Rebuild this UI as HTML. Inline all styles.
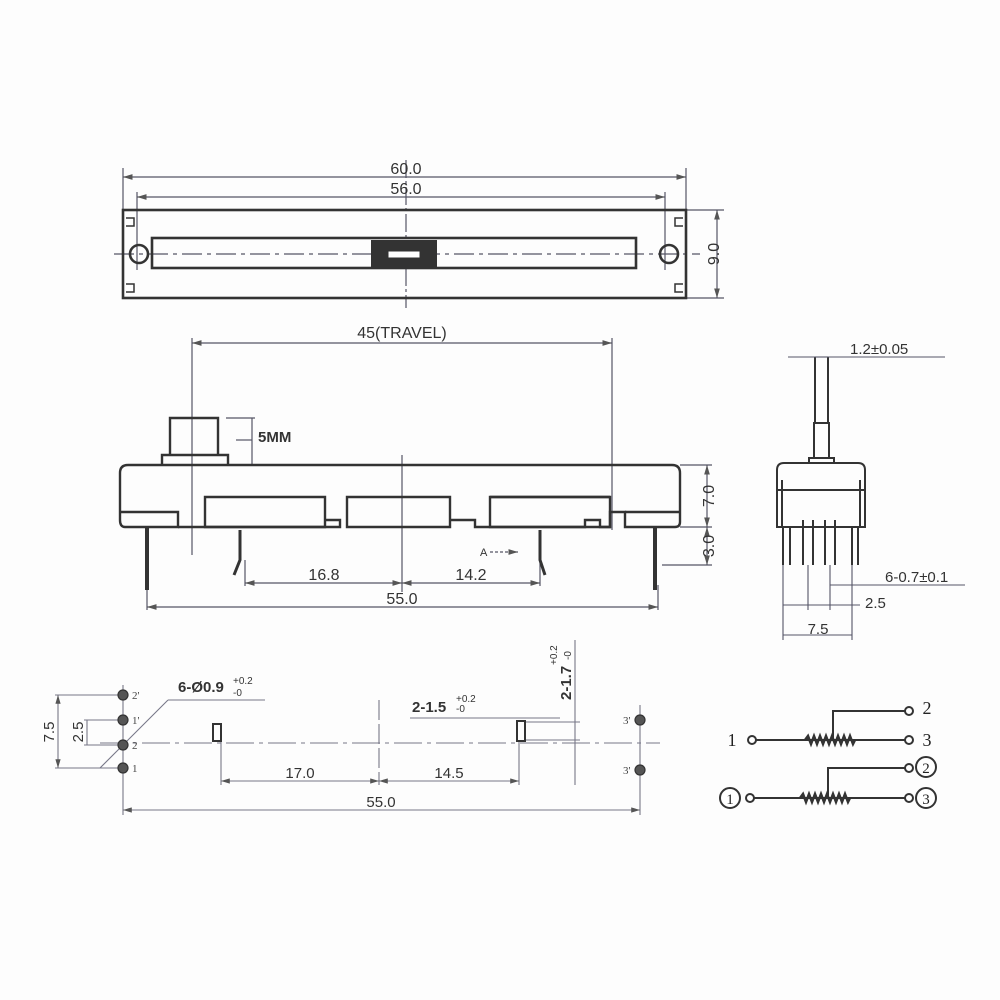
<!DOCTYPE html>
<html><head><style>html,body{margin:0;padding:0;background:#fff}svg{display:block}</style></head><body>
<svg width="1000" height="1000" viewBox="0 0 1000 1000" xmlns="http://www.w3.org/2000/svg" font-family="Liberation Sans, sans-serif">
<rect width="1000" height="1000" fill="#fdfdfd"/>
<defs>
<marker id="a" viewBox="0 0 10 6" refX="10" refY="3" markerWidth="8" markerHeight="5" orient="auto-start-reverse"><path d="M0,0L10,3L0,6z" fill="#555"/></marker>
</defs>
<!-- TOP VIEW -->
<g stroke="#556" stroke-width="1.2" fill="none">
<line x1="123" y1="168" x2="123" y2="212"/><line x1="686" y1="168" x2="686" y2="212"/>
<line x1="123" y1="177" x2="686" y2="177" marker-start="url(#a)" marker-end="url(#a)"/>
<line x1="137" y1="197" x2="665" y2="197" marker-start="url(#a)" marker-end="url(#a)"/>
<line x1="137" y1="192" x2="137" y2="270"/><line x1="665" y1="192" x2="665" y2="270"/>
<line x1="406" y1="160" x2="406" y2="308" stroke-dasharray="18,3,3,3"/>
<line x1="114" y1="254" x2="700" y2="254" stroke-dasharray="20,5,4,5"/>
<line x1="686" y1="210" x2="724" y2="210"/><line x1="686" y1="298" x2="724" y2="298"/>
<line x1="717" y1="210" x2="717" y2="298" marker-start="url(#a)" marker-end="url(#a)"/>
</g>
<g fill="#333" font-size="16"><text x="406" y="174" text-anchor="middle">60.0</text><text x="406" y="194" text-anchor="middle">56.0</text>
<text transform="translate(719,254) rotate(-90)" text-anchor="middle" font-size="16">9.0</text></g>
<g stroke="#333" stroke-width="2.6" fill="none">
<rect x="123" y="210" width="563" height="88"/>
<rect x="152" y="238" width="484" height="30"/>
<circle cx="139" cy="254" r="9"/><circle cx="669" cy="254" r="9"/>
<path d="M126,218h8v8h-8M126,292h8v-8h-8M683,218h-8v8h8M683,292h-8v-8h8" stroke-width="1.5"/>
</g>
<rect x="371" y="240" width="66" height="28" fill="#333"/>
<rect x="388" y="251" width="32" height="7" fill="#fff" stroke="#333"/>
<!-- SIDE VIEW -->
<g stroke="#556" stroke-width="1.2" fill="none">
<line x1="192" y1="343" x2="612" y2="343" marker-start="url(#a)" marker-end="url(#a)"/>
<line x1="192" y1="338" x2="192" y2="555"/><line x1="612" y1="338" x2="612" y2="530"/>
<line x1="252" y1="418" x2="252" y2="465"/><line x1="226" y1="418" x2="255" y2="418"/><line x1="236" y1="440" x2="252" y2="440"/>
<line x1="402" y1="455" x2="402" y2="592"/>
<line x1="680" y1="465" x2="712" y2="465"/><line x1="680" y1="527" x2="712" y2="527"/><line x1="662" y1="565" x2="712" y2="565"/>
<line x1="707" y1="465" x2="707" y2="527" marker-start="url(#a)" marker-end="url(#a)"/>
<line x1="707" y1="527" x2="707" y2="565" marker-start="url(#a)" marker-end="url(#a)"/>
<line x1="245" y1="583" x2="402" y2="583" marker-start="url(#a)" marker-end="url(#a)"/>
<line x1="402" y1="583" x2="540" y2="583" marker-start="url(#a)" marker-end="url(#a)"/>
<line x1="245" y1="560" x2="245" y2="586"/><line x1="540" y1="560" x2="540" y2="586"/>
<line x1="147" y1="607" x2="658" y2="607" marker-start="url(#a)" marker-end="url(#a)"/>
<line x1="147" y1="585" x2="147" y2="610"/><line x1="658" y1="585" x2="658" y2="610"/>
<line x1="490" y1="552" x2="518" y2="552" stroke-dasharray="3,2" marker-end="url(#a)"/>
</g>
<g fill="#333" font-size="16">
<text x="402" y="338" text-anchor="middle">45(TRAVEL)</text>
<text x="258" y="442" font-weight="bold" font-size="15">5MM</text>
<text x="324" y="580" text-anchor="middle">16.8</text><text x="471" y="580" text-anchor="middle">14.2</text>
<text x="402" y="604" text-anchor="middle">55.0</text>
<text transform="translate(714,496) rotate(-90)" text-anchor="middle">7.0</text>
<text transform="translate(714,546) rotate(-90)" text-anchor="middle">3.0</text>
<text x="480" y="556" font-size="11">A</text>
</g>
<g stroke="#333" stroke-width="2.4" fill="none">
<path d="M170,455V418H218V455"/><path d="M162,465V455H228V465"/>
<path d="M128,465H672Q680,465 680,473V522Q680,527 675,527H625V512H610V527H600V520H585V527H490V497H610M125,527Q120,527 120,520V473Q120,465 128,465"/>
<path d="M120,512H178V527H125"/><path d="M625,512H680"/>
<path d="M205,497H325V527H205Z"/><path d="M347,497H450V527H347Z"/><path d="M490,497H610V527H490"/>
<path d="M178,527H340V520H325M450,520H475V527H490"/>
<path d="M147,527V590M655,527V590" stroke-width="4"/>
<path d="M240,530V560L234,575M540,530V560L545,575" stroke-width="3"/>
</g>
<!-- RIGHT SIDE VIEW -->
<g stroke="#333" stroke-width="2" fill="none">
<path d="M815,357V423H828V357"/><rect x="814" y="423" width="15" height="35"/>
<path d="M809,463V458H834V463"/>
<path d="M784,463H858Q865,463 865,470V527H777V470Q777,463 784,463Z"/>
<path d="M777,490H865M782,480V527M860,480V527"/>
<path d="M783,527V565M790,527V565M803,520V565M813,520V565M825,520V565M835,520V565M852,527V565M858,527V565"/>
</g>
<g stroke="#556" stroke-width="1.1" fill="none">
<line x1="788" y1="357" x2="945" y2="357"/><line x1="815" y1="357" x2="828" y2="357"/>
<line x1="830" y1="585" x2="965" y2="585"/>
<line x1="783" y1="605" x2="860" y2="605"/><line x1="783" y1="635" x2="852" y2="635"/>
<line x1="783" y1="565" x2="783" y2="640"/><line x1="852" y1="565" x2="852" y2="640"/>
<line x1="808" y1="565" x2="808" y2="610"/><line x1="830" y1="565" x2="830" y2="610"/>
</g>
<g fill="#333" font-size="15">
<text x="850" y="354">1.2±0.05</text><text x="885" y="582">6-0.7±0.1</text>
<text x="865" y="608">2.5</text><text x="818" y="634" text-anchor="middle">7.5</text>
</g>
<!-- BOTTOM VIEW -->
<g stroke="#778" stroke-width="1.1" fill="none">
<line x1="100" y1="743" x2="660" y2="743" stroke-dasharray="28,5,4,5"/>
<line x1="123" y1="685" x2="123" y2="815"/><line x1="640" y1="705" x2="640" y2="815"/>
<line x1="379" y1="700" x2="379" y2="785" stroke-dasharray="20,4"/>
<line x1="55" y1="695" x2="123" y2="695"/><line x1="55" y1="768" x2="123" y2="768"/>
<line x1="84" y1="720" x2="123" y2="720"/><line x1="84" y1="745" x2="123" y2="745"/>
<line x1="58" y1="695" x2="58" y2="768" marker-start="url(#a)" marker-end="url(#a)"/>
<line x1="87" y1="720" x2="87" y2="745"/>
<line x1="221" y1="741" x2="221" y2="785"/><line x1="519" y1="741" x2="519" y2="785"/>
<line x1="221" y1="781" x2="379" y2="781" marker-start="url(#a)" marker-end="url(#a)"/>
<line x1="379" y1="781" x2="519" y2="781" marker-start="url(#a)" marker-end="url(#a)"/>
<line x1="123" y1="810" x2="640" y2="810" marker-start="url(#a)" marker-end="url(#a)"/>
<line x1="168" y1="700" x2="265" y2="700"/><line x1="168" y1="700" x2="100" y2="768"/>
<line x1="410" y1="718" x2="560" y2="718"/>
<line x1="575" y1="640" x2="575" y2="785"/><line x1="525" y1="722" x2="580" y2="722"/><line x1="525" y1="740" x2="580" y2="740"/>
</g>
<g fill="#555" stroke="#333" stroke-width="1.2">
<circle cx="123" cy="695" r="5"/><circle cx="123" cy="720" r="5"/><circle cx="123" cy="745" r="5"/><circle cx="123" cy="768" r="5"/>
<circle cx="640" cy="720" r="5"/><circle cx="640" cy="770" r="5"/>
</g>
<g fill="none" stroke="#333" stroke-width="2"><rect x="213" y="724" width="8" height="17"/><rect x="517" y="721" width="8" height="20"/></g>
<g fill="#444" font-size="11" font-family="Liberation Serif, serif">
<text x="132" y="699">2'</text><text x="132" y="724">1'</text><text x="132" y="749">2</text><text x="132" y="772">1</text>
<text x="623" y="724">3'</text><text x="623" y="774">3'</text>
</g>
<g fill="#333" font-size="15">
<text x="178" y="692" font-weight="bold">6-Ø0.9</text><text x="233" y="684" font-size="10">+0.2</text><text x="233" y="696" font-size="10">-0</text>
<text x="412" y="712" font-weight="bold">2-1.5</text><text x="456" y="702" font-size="10">+0.2</text><text x="456" y="712" font-size="10">-0</text>
<text transform="translate(571,700) rotate(-90)" font-weight="bold">2-1.7</text>
<text transform="translate(557,665) rotate(-90)" font-size="10">+0.2</text>
<text transform="translate(571,660) rotate(-90)" font-size="10">-0</text>
<text transform="translate(54,732) rotate(-90)" text-anchor="middle">7.5</text>
<text transform="translate(83,732) rotate(-90)" text-anchor="middle">2.5</text>
<text x="300" y="778" text-anchor="middle">17.0</text><text x="449" y="778" text-anchor="middle">14.5</text>
<text x="381" y="807" text-anchor="middle">55.0</text>
</g>
<!-- SCHEMATIC -->
<g stroke="#333" stroke-width="2" fill="#fff">
<line x1="752" y1="740" x2="905" y2="740"/><line x1="748" y1="798" x2="905" y2="798"/>
<path d="M833,738V711H905M828,796V768H905" fill="none"/>
<path d="M805,740 l3,-4 3,8 3,-8 3,8 3,-8 3,8 3,-8 3,8 3,-8 3,8 3,-8 3,8 3,-8 3,8 3,-8 3,8 2,-4" fill="none" stroke-width="2.5"/>
<path d="M800,798 l3,-4 3,8 3,-8 3,8 3,-8 3,8 3,-8 3,8 3,-8 3,8 3,-8 3,8 3,-8 3,8 3,-8 3,8 2,-4" fill="none" stroke-width="2.5"/>
<circle cx="752" cy="740" r="4"/><circle cx="909" cy="740" r="4"/><circle cx="909" cy="711" r="4"/>
<circle cx="750" cy="798" r="4"/><circle cx="909" cy="798" r="4"/><circle cx="909" cy="768" r="4"/>
<circle cx="730" cy="798" r="10"/><circle cx="926" cy="798" r="10"/><circle cx="926" cy="767" r="10"/>
</g>
<g fill="#222" font-family="Liberation Serif, serif" font-size="18" text-anchor="middle">
<text x="732" y="746">1</text><text x="927" y="714">2</text><text x="927" y="746">3</text>
<text x="730" y="804" font-size="15">1</text><text x="926" y="804" font-size="15">3</text><text x="926" y="773" font-size="15">2</text>
</g>
</svg>
</body></html>
